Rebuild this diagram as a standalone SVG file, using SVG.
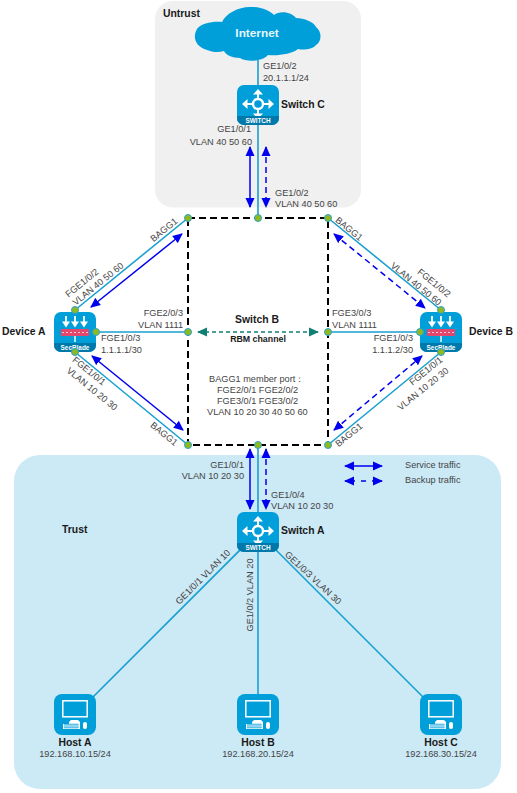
<svg xmlns="http://www.w3.org/2000/svg" xmlns:xlink="http://www.w3.org/1999/xlink" width="517" height="793" viewBox="0 0 517 793">
<style>
text{font-family:"Liberation Sans",Arial,sans-serif;font-size:9.2px;fill:#444}
.b{font-weight:bold;font-size:10.4px;fill:#1a1a1a}
.m{text-anchor:middle}
.e{text-anchor:end}
.link{stroke:#1aa0d2;stroke-width:1.6;fill:none}
.sq{stroke:#000;stroke-width:2;stroke-dasharray:7 4;fill:none}
.dot{fill:#8fb91c;stroke:#2aa3d3;stroke-width:1}
.sv{stroke:#0000f0;stroke-width:1.5;fill:none;marker-start:url(#ab);marker-end:url(#ab)}
.bk{stroke:#0000f0;stroke-width:1.5;stroke-dasharray:6 4;fill:none;marker-start:url(#ab);marker-end:url(#ab)}
.rbm{stroke:#0f7f73;stroke-width:1.3;stroke-dasharray:4 3;fill:none;marker-start:url(#ag);marker-end:url(#ag)}
.bg{fill:#009fd9}
.band{fill:#0079aa}
.w{fill:#fff}
.ws{stroke:#fff;fill:none}
.ic{font-size:6.4px;font-weight:bold;fill:#fff;text-anchor:middle}
</style>
<defs>
<marker id="ab" viewBox="0 0 10 10" markerUnits="userSpaceOnUse" markerWidth="10" markerHeight="10" refX="9" refY="5" orient="auto-start-reverse"><path d="M0,0.5L10,5L0,9.5Z" fill="#0000f0"/></marker>
<marker id="ag" viewBox="0 0 10 10" markerUnits="userSpaceOnUse" markerWidth="10" markerHeight="10" refX="9" refY="5" orient="auto-start-reverse"><path d="M0,0.5L10,5L0,9.5Z" fill="#0f7f73"/></marker>
<g id="sw">
<rect width="42" height="40" rx="7" class="bg"/>
<circle cx="21" cy="19" r="5" class="ws" stroke-width="2.4"/>
<path d="M21,14V8M21,24V30M16,19H10M26,19H32" class="ws" stroke-width="2"/>
<path d="M21,4L26,9.5H16ZM21,34L26,28.500H16ZM5,19L10.500,14V24ZM37,19L31.500,14V24Z" class="w"/>
<path d="M0,31H42V33a7,7 0 0 1-7,7H7a7,7 0 0 1-7-7Z" class="band"/>
<text x="21" y="38.200" class="ic">SWITCH</text>
</g>
<g id="fw">
<rect width="42" height="40" rx="7" class="bg"/>
<path d="M0,31H42V33a7,7 0 0 1-7,7H7a7,7 0 0 1-7-7Z" class="band"/>
<path d="M12,4V10M21,4V10M30,4V10" class="ws" stroke-width="1.8"/>
<path d="M8,9.500H16L12,15.500ZM17,9.500H25L21,15.500ZM26,9.500H34L30,15.500Z" class="w"/>
<rect x="7" y="17" width="28" height="7" fill="#e2476d"/>
<path d="M8,20.500H34" stroke="#f7c3d0" stroke-width="1.200" stroke-dasharray="2 2"/>
<rect x="20.300" y="24" width="1.400" height="6" class="w"/>
<text x="21" y="38.200" class="ic">SecBlade</text>
</g>
<g id="pc">
<rect width="42" height="41" rx="8" class="bg"/>
<rect x="8.800" y="6.800" width="24.400" height="16" class="ws" stroke-width="1.500"/>
<path d="M9,35V30H15V28L17,26H24L26,28V35Z" class="w"/>
<path d="M10,32H25M10,30.500H25M10,33.500H25" stroke="#009fd9" stroke-width=".5"/>
<path d="M11,29V35M13,29V35M15,29V35M17,29V35M19,29V35M21,29V35M23,29V35" stroke="#009fd9" stroke-width=".5"/>
<rect x="29" y="28" width="4" height="7" rx="2" class="w"/>
</g>
</defs>

<g id="zones">
<rect x="155" y="1" width="206" height="206.500" rx="18" fill="#f0f0f0"/>
<rect x="14" y="455" width="487" height="334" rx="26" fill="#cce9f6"/>
<text x="163" y="17" class="b">Untrust</text>
<text x="62" y="533" class="b">Trust</text>
</g>

<g id="connectors">
<path class="link" d="M258,60V218M258,445V532M258,532L75,715M258,532V715M258,532L441,715"/>
<path class="link" d="M75,310L188,218M96,332H188M75,352L188,445M441,310L328,218M420,332H328M441,352L328,445"/>
<path class="sv" d="M250,147V207"/>
<path class="bk" d="M266,147V207"/>
<path class="sv" d="M250,449V509"/>
<path class="bk" d="M266,449V509"/>
<path class="sv" d="M91,307L182,234"/>
<path class="sv" d="M92,356L183,430"/>
<path class="bk" d="M334,234L425,308"/>
<path class="bk" d="M334,430L422,356"/>
<path class="rbm" d="M198,332H318"/>
</g>

<g id="internet">
<path d="M207,50C196,47 192,38 197,29C201,23 214,21 222,22C226,13 240,6 252,7C262,7 270,11 274,15C280,10 292,12 296,18C304,18 314,22 316,27C322,32 322,41 316,45C312,50 302,50 298,49C292,54 278,56 268,55C262,62 246,62 240,58C232,58 226,55 224,51C218,53 212,52 207,50Z" fill="#009fd9"/>
<text x="257" y="37" class="b m" style="font-size:11.800px;fill:#e6f6fc">Internet</text>
</g>

<g id="switch-c">
<use href="#sw" x="237" y="85"/>
<text x="281" y="108" class="b">Switch C</text>
</g>

<g id="switch-b">
<path class="sq" d="M188,218H328V445H188Z"/>
<circle cx="188" cy="218" r="3.500" class="dot"/>
<circle cx="258" cy="218" r="3.500" class="dot"/>
<circle cx="328" cy="218" r="3.500" class="dot"/>
<circle cx="188" cy="332" r="3.500" class="dot"/>
<circle cx="328" cy="332" r="3.500" class="dot"/>
<circle cx="188" cy="445" r="3.500" class="dot"/>
<circle cx="258" cy="445" r="3.500" class="dot"/>
<circle cx="328" cy="445" r="3.500" class="dot"/>
<text x="257" y="323" class="b m">Switch B</text>
<text x="258" y="342" class="b m" style="font-size:8.800px">RBM channel</text>
<text x="209" y="382">BAGG1 member port：</text>
<text x="217" y="393">FGE2/0/1 FGE2/0/2</text>
<text x="217" y="404">FGE3/0/1 FGE3/0/2</text>
<text x="207" y="415">VLAN 10 20 30 40 50 60</text>
</g>

<g id="device-a">
<use href="#fw" x="54" y="312"/>
<circle cx="75" cy="310" r="3.500" class="dot"/>
<circle cx="96" cy="332" r="3.500" class="dot"/>
<circle cx="75" cy="352" r="3.500" class="dot"/>
<text x="2" y="335" class="b">Device A</text>
</g>

<g id="device-b">
<use href="#fw" x="420" y="312"/>
<circle cx="441" cy="310" r="3.500" class="dot"/>
<circle cx="420" cy="332" r="3.500" class="dot"/>
<circle cx="441" cy="352" r="3.500" class="dot"/>
<text x="469" y="335" class="b">Device B</text>
</g>

<g id="switch-a">
<use href="#sw" x="237" y="512"/>
<text x="281" y="534" class="b">Switch A</text>
</g>

<g id="host-a">
<use href="#pc" x="54" y="694"/>
<text x="75" y="746" class="b m">Host A</text>
<text x="75" y="757" class="m">192.168.10.15/24</text>
</g>
<g id="host-b">
<use href="#pc" x="237" y="694"/>
<text x="258" y="746" class="b m">Host B</text>
<text x="258" y="757" class="m">192.168.20.15/24</text>
</g>
<g id="host-c">
<use href="#pc" x="420" y="694"/>
<text x="441" y="746" class="b m">Host C</text>
<text x="441" y="757" class="m">192.168.30.15/24</text>
</g>

<g id="labels">
<text x="263" y="69">GE1/0/2</text>
<text x="263" y="81">20.1.1.1/24</text>
<text x="251" y="132" class="e">GE1/0/1</text>
<text x="252" y="145" class="e">VLAN 40 50 60</text>
<text x="275" y="196">GE1/0/2</text>
<text x="275" y="207">VLAN 40 50 60</text>
<text x="101" y="341">FGE1/0/3</text>
<text x="101" y="353">1.1.1.1/30</text>
<text x="183" y="316" class="e">FGE2/0/3</text>
<text x="183" y="328" class="e">VLAN 1111</text>
<text x="413" y="341" class="e">FGE1/0/3</text>
<text x="413" y="353" class="e">1.1.1.2/30</text>
<text x="332" y="316">FGE3/0/3</text>
<text x="332" y="328">VLAN 1111</text>
<text x="244" y="468" class="e">GE1/0/1</text>
<text x="244" y="479" class="e">VLAN 10 20 30</text>
<text x="271" y="498">GE1/0/4</text>
<text x="271" y="509">VLAN 10 20 30</text>
<g class="m">
<text transform="translate(82,283) rotate(-39)" y="3">FGE1/0/2</text>
<text transform="translate(98,284) rotate(-39)" y="3">VLAN 40 50 60</text>
<text transform="translate(164,230) rotate(-39)" y="3">BAGG1</text>
<text transform="translate(89,371) rotate(39)" y="3">FGE1/0/1</text>
<text transform="translate(92,389) rotate(39)" y="3">VLAN 10 20 30</text>
<text transform="translate(164,434) rotate(39)" y="3">BAGG1</text>
<text transform="translate(349,229) rotate(39)" y="3">BAGG1</text>
<text transform="translate(416,284) rotate(39)" y="3">VLAN 40 50 60</text>
<text transform="translate(434,283) rotate(39)" y="3">FGE1/0/2</text>
<text transform="translate(426,371) rotate(-39)" y="3">FGE1/0/1</text>
<text transform="translate(423,389) rotate(-39)" y="3">VLAN 10 20 30</text>
<text transform="translate(349,435) rotate(-39)" y="3">BAGG1</text>
<text transform="translate(203,577) rotate(-45)" y="3">GE1/0/1 VLAN 10</text>
<text transform="translate(250,595) rotate(-90)" y="3">GE1/0/2 VLAN 20</text>
<text transform="translate(313,578) rotate(43)" y="3">GE1/0/3 VLAN 30</text>
</g>
</g>

<g id="legend">
<path class="sv" d="M345,466H382"/>
<path class="bk" d="M345,481H382" style="stroke-dasharray:10 6 5 6 10"/>
<text x="405" y="468">Service traffic</text>
<text x="405" y="483">Backup traffic</text>
</g>
</svg>
